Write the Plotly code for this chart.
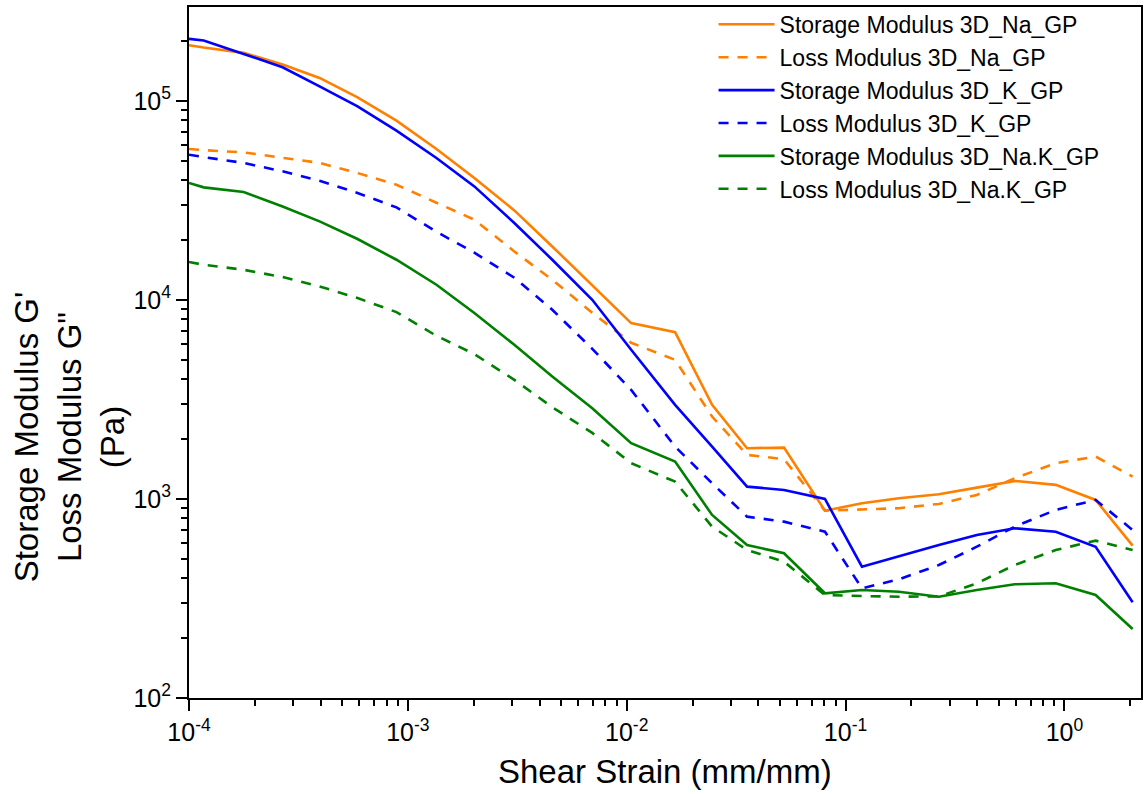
import plotly.graph_objects as go

# ---- data ----
strain = [1.0e-4, 1.167e-4, 1.777e-4, 2.677e-4, 3.95e-4, 5.89e-4, 8.87e-4, 1.351e-3,
          2.013e-3, 3.065e-3, 4.57e-3, 6.96e-3, 1.048e-2, 1.664e-2, 2.456e-2, 3.548e-2,
          5.235e-2, 8.05e-2, 0.1188, 0.1753, 0.2669, 0.398, 0.593, 0.9127, 1.389, 2.05]

storage_na = [1.909e5, 1.858e5, 1.748e5, 1.526e5, 1.308e5, 1.045e5, 7.98e4, 5.75e4, 4.11e4,
              2.823e4, 1.86e4, 1.18e4, 7660, 6902, 2974, 1801, 1814, 874, 953, 1009, 1057,
              1141, 1233, 1178, 990, 583]
loss_na = [5.75e4, 5.67e4, 5.525e4, 5.18e4, 4.89e4, 4.35e4, 3.80e4, 3.086e4, 2.535e4,
           1.756e4, 1.265e4, 8634, 6099, 5007, 2597, 1667, 1586, 874, 889, 899, 945,
           1049, 1272, 1514, 1635, 1296]
storage_k = [2.055e5, 2.015e5, 1.727e5, 1.479e5, 1.187e5, 9.41e4, 7.10e4, 5.18e4, 3.727e4,
             2.44e4, 1.595e4, 1.0035e4, 5623, 2974, 1835, 1154, 1111, 1001, 457, 517.5,
             587.6, 659.7, 713, 685.5, 576, 302.7]
loss_k = [5.38e4, 5.23e4, 4.89e4, 4.436e4, 3.98e4, 3.453e4, 2.923e4, 2.205e4, 1.730e4,
          1.295e4, 8939, 5689, 3538, 1835, 1201, 815.6, 769.7, 685.5, 355.9, 395, 466,
          576, 726.5, 881.5, 989.7, 699]
storage_nak = [3.877e4, 3.685e4, 3.494e4, 2.956e4, 2.486e4, 2.027e4, 1.595e4, 1.194e4, 8604,
               5960, 4128, 2862, 1909, 1542, 831.8, 587.6, 533.8, 335.9, 349, 342, 322.9,
               349, 372.7, 377.1, 329.3, 222.1]
loss_nak = [1.553e4, 1.505e4, 1.42e4, 1.305e4, 1.171e4, 1.0235e4, 8703, 6613, 5350, 3973,
            2895, 2150, 1514, 1223, 726.5, 554.6, 484.3, 329.3, 325.5, 322.9, 324, 377.1,
            466, 554.6, 617.6, 554.6]

series_names = ["Storage Modulus 3D_Na_GP", "Loss Modulus 3D_Na_GP",
                "Storage Modulus 3D_K_GP", "Loss Modulus 3D_K_GP",
                "Storage Modulus 3D_Na.K_GP", "Loss Modulus 3D_Na.K_GP"]

x_tickvals = [1e-4, 1e-3, 1e-2, 1e-1, 1e0]
x_ticktext = ["10<sup>-4</sup>", "10<sup>-3</sup>", "10<sup>-2</sup>", "10<sup>-1</sup>", "10<sup>0</sup>"]
y_tickvals = [1e2, 1e3, 1e4, 1e5]
y_ticktext = ["10<sup>2</sup>", "10<sup>3</sup>", "10<sup>4</sup>", "10<sup>5</sup>"]

x_title = "Shear Strain (mm/mm)"
y_title = "Storage Modulus G'<br>Loss Modulus G\"<br>(Pa)"

# ---- styling ----
ORANGE = "#FF8000"
BLUE = "#0000FF"
GREEN = "#008000"
FONT = "Arial, Liberation Sans, sans-serif"
DASH = "10px,9px"

series = [
    (storage_na, ORANGE, "solid"),
    (loss_na, ORANGE, DASH),
    (storage_k, BLUE, "solid"),
    (loss_k, BLUE, DASH),
    (storage_nak, GREEN, "solid"),
    (loss_nak, GREEN, DASH),
]

fig = go.Figure()
for (vals, color, dash), name in zip(series, series_names):
    fig.add_trace(go.Scatter(
        x=strain, y=vals, mode="lines", name=name,
        line=dict(color=color, width=2.6, dash=dash),
    ))

axis_common = dict(
    type="log",
    showgrid=False,
    zeroline=False,
    showline=True,
    linecolor="black",
    linewidth=2,
    mirror=True,
    ticks="outside",
    ticklen=11,
    tickwidth=2,
    tickcolor="black",
    tickfont=dict(family=FONT, size=25, color="black"),
    minor=dict(ticks="outside", ticklen=6, tickwidth=2, tickcolor="black",
               dtick="D1", showgrid=False),
)

fig.update_layout(
    width=1145, height=794,
    margin=dict(l=189, r=2, t=7, b=96),
    paper_bgcolor="white",
    plot_bgcolor="white",
    font=dict(family=FONT, color="black"),
    showlegend=True,
    legend=dict(
        x=0.551, xanchor="left", y=1.006, yanchor="top",
        bgcolor="rgba(0,0,0,0)",
        font=dict(family=FONT, size=23, color="black"),
        itemwidth=56,
        tracegroupgap=0,
    ),
    xaxis=dict(axis_common, range=[-4, 0.35], tickmode="array",
               tickvals=x_tickvals, ticktext=x_ticktext),
    yaxis=dict(axis_common, range=[2, 5.473], tickmode="array",
               tickvals=y_tickvals, ticktext=y_ticktext),
    annotations=[
        dict(text=x_title, xref="paper", yref="paper", x=0.5, y=-0.107,
             xanchor="center", yanchor="middle", showarrow=False,
             font=dict(family=FONT, size=33, color="black")),
        dict(text=y_title, xref="paper", yref="paper", x=-0.1255, y=0.378,
             xanchor="center", yanchor="middle", showarrow=False, textangle=-90,
             font=dict(family=FONT, size=33, color="black")),
    ],
)

fig.write_html("out.html")
